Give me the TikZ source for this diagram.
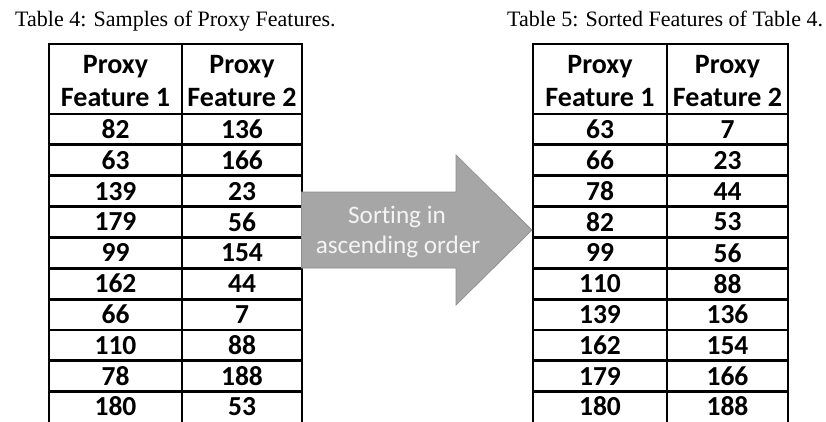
\documentclass[tikz,border=0pt]{standalone}
\usepackage{fontspec}
\setmainfont{Liberation Serif}
\newfontfamily\califont[Ligatures=NoCommon]{Carlito}
\definecolor{arrowgray}{HTML}{A6A6A6}
\definecolor{arrowedge}{HTML}{8F8F8F}
\definecolor{arrowtext}{HTML}{F4F4F4}
\begin{document}
\begin{tikzpicture}[x=1pt,y=-1pt,
  gridline/.style={draw=black, line width=2.8pt},
  cell/.style={gridline, rectangle, inner sep=0pt,
    minimum height=30.85pt, font=\califont\bfseries\fontsize{27.5}{33}\selectfont, text=black},
  lastcell/.style={cell, draw=none, outer sep=0pt, minimum height=29pt},
  headcell/.style={cell, minimum height=70pt},
  headtext/.style={anchor=base, inner sep=0pt, font=\califont\bfseries\fontsize{28}{33}\selectfont, text=black},
  colA/.style={minimum width=133pt},
  colB/.style={minimum width=120pt},
  colC/.style={minimum width=134pt},
  colD/.style={minimum width=121pt},
  caption/.style={anchor=base west, inner sep=0pt, font=\fontsize{22}{26}\selectfont},
  bigarrow/.style={fill=arrowgray, draw=arrowedge, line width=0.7pt},
  arrowlabel/.style={anchor=base, inner sep=0pt, font=\califont\fontsize{25.2}{30}\selectfont, text=arrowtext}]
\useasboundingbox[fill=white] (0,0) rectangle (826,421);
\clip (0,0) rectangle (826,421);

% captions
\node[caption] (cap4) at (15,26) {Table 4: Samples of Proxy Features.};
\node[caption] (cap5) at (507,26) {Table 5: Sorted Features of Table 4.};

% left table
\node[headcell, colA] (L-h1) at (115.5,79) {};
\node[headcell, colB] (L-h2) at (242,79) {};
\node[headtext] (L-h1a) at (115.5,73) {Proxy};
\node[headtext] (L-h1b) at (115.5,106) {Feature 1};
\node[headtext] (L-h2a) at (242,73) {Proxy};
\node[headtext] (L-h2b) at (242,106) {Feature 2};
\foreach \a/\b [count=\i] in {82/136,63/166,139/23,179/56,99/154,162/44,66/7,110/88,78/188}{
  \node[cell, colA] (L-\i-1) at (115.5,{98.575+30.85*\i}) {\a};
  \node[cell, colB] (L-\i-2) at (242,{98.575+30.85*\i}) {\b};
}
\node[lastcell, colA] (L-10-1) at (115.5,406.15) {180};
\node[lastcell, colB] (L-10-2) at (242,406.15) {53};
\draw[gridline] (L-10-1.north west) -- (L-10-1.south west) -- ++(0,4);
\draw[gridline] (L-10-1.north east) -- (L-10-1.south east) -- ++(0,4);
\draw[gridline] (L-10-2.north east) -- (L-10-2.south east) -- ++(0,4);

% right table
\node[headcell, colC] (R-h1) at (600,79) {};
\node[headcell, colD] (R-h2) at (727.5,79) {};
\node[headtext] (R-h1a) at (600,73) {Proxy};
\node[headtext] (R-h1b) at (600,106) {Feature 1};
\node[headtext] (R-h2a) at (727.5,73) {Proxy};
\node[headtext] (R-h2b) at (727.5,106) {Feature 2};
\foreach \a/\b [count=\i] in {63/7,66/23,78/44,82/53,99/56,110/88,139/136,162/154,179/166}{
  \node[cell, colC] (R-\i-1) at (600,{98.575+30.85*\i}) {\a};
  \node[cell, colD] (R-\i-2) at (727.5,{98.575+30.85*\i}) {\b};
}
\node[lastcell, colC] (R-10-1) at (600,406.15) {180};
\node[lastcell, colD] (R-10-2) at (727.5,406.15) {188};
\draw[gridline] (R-10-1.north west) -- (R-10-1.south west) -- ++(0,4);
\draw[gridline] (R-10-1.north east) -- (R-10-1.south east) -- ++(0,4);
\draw[gridline] (R-10-2.north east) -- (R-10-2.south east) -- ++(0,4);

% arrow
\draw[bigarrow] (301.5,192) -- (456,192) -- (456,155) -- (532,230) -- (456,305) -- (456,268) -- (301.5,268) -- cycle;
\node[arrowlabel] (sortlabel1) at (397,223) {Sorting in};
\node[arrowlabel] (sortlabel2) at (398,253) {ascending order};
\end{tikzpicture}
\end{document}
